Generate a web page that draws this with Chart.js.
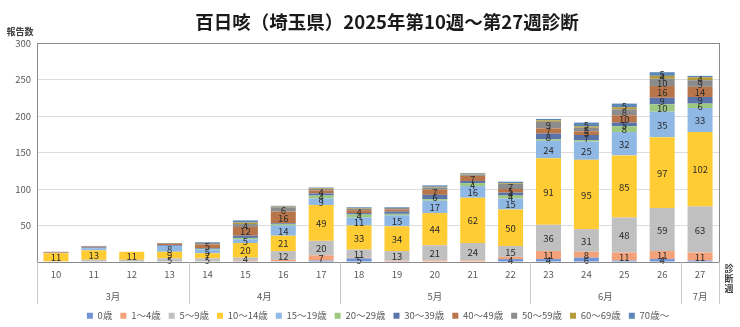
<!DOCTYPE html>
<html lang="ja">
<head>
<meta charset="utf-8">
<title>百日咳（埼玉県）2025年第10週～第27週診断</title>
<script src="https://cdn.jsdelivr.net/npm/chart.js@4.4.1/dist/chart.umd.min.js"></script>
<style>
  html, body { margin: 0; padding: 0; background: #fff; }
  #wrap { width: 740px; height: 327px; }
</style>
</head>
<body>
<div id="wrap"><canvas id="chart" width="740" height="327"></canvas></div>
<script>
// 診断週と月の区切り
const weeks = ['10', '11', '12', '13', '14', '15', '16', '17', '18', '19', '20', '21', '22', '23', '24', '25', '26', '27'];
const monthLabels = ['3月', '4月', '5月', '6月', '7月'];
const monthSpans = [4, 4, 5, 4, 1];

// 年齢階級別の報告数（週ごと）
const ageGroups = ['0歳', '1～4歳', '5～9歳', '10～14歳', '15～19歳', '20～29歳', '30～39歳', '40～49歳', '50～59歳', '60～69歳', '70歳～'];
const age0     = [0, 0, 0, 0, 0, 1, 1, 2, 5, 1, 0, 0, 4, 4, 6, 2, 4, 2];
const age1to4  = [0, 0, 0, 0, 0, 1, 2, 7, 1, 1, 2, 2, 3, 11, 8, 11, 11, 11];
const age5to9  = [1, 3, 3, 5, 5, 4, 12, 20, 11, 13, 21, 24, 15, 36, 31, 48, 59, 63];
const age10s   = [11, 13, 11, 9, 7, 20, 21, 49, 33, 34, 44, 62, 50, 91, 95, 85, 97, 102];
const age15s   = [0, 3, 0, 8, 5, 5, 14, 9, 11, 15, 17, 16, 15, 24, 25, 32, 35, 33];
const age20s   = [0, 0, 0, 0, 1, 2, 2, 4, 4, 2, 2, 4, 4, 2, 2, 8, 10, 6];
const age30s   = [0, 1, 0, 1, 1, 3, 1, 3, 2, 3, 6, 3, 4, 8, 7, 5, 9, 9];
const age40s   = [1, 1, 0, 2, 5, 12, 16, 4, 4, 3, 7, 7, 5, 7, 5, 10, 16, 14];
const age50s   = [1, 1, 0, 1, 2, 4, 6, 2, 2, 2, 3, 2, 7, 9, 5, 8, 10, 9];
const age60s   = [0, 0, 0, 0, 0, 2, 1, 1, 1, 0, 1, 1, 1, 2, 2, 3, 4, 4];
const age70up  = [0, 0, 0, 0, 1, 3, 1, 1, 1, 1, 2, 1, 2, 2, 5, 5, 5, 2];

const seriesData = [age0, age1to4, age5to9, age10s, age15s, age20s, age30s, age40s, age50s, age60s, age70up];
const colors = ['#7094d4', '#f4a27a', '#c0c0c0', '#ffcc33', '#8fb8e4', '#9cc97f', '#5a73a8', '#b8754a', '#8c8c8c', '#b39a3c', '#5e88b8'];

Chart.defaults.font.family = "'Noto Sans CJK JP', 'Noto Sans', sans-serif";
Chart.defaults.font.size = 9.5;
Chart.defaults.color = '#595959';

// 積み上げの中に数値（4以上）を表示
const segmentLabels = {
  id: 'segmentLabels',
  afterDatasetsDraw(chart) {
    const {ctx} = chart;
    ctx.save();
    ctx.font = "9.5px 'Noto Sans CJK JP', sans-serif";
    ctx.fillStyle = '#2b2b2b';
    ctx.textAlign = 'center';
    ctx.textBaseline = 'middle';
    chart.data.datasets.forEach((ds, d) => {
      const meta = chart.getDatasetMeta(d);
      meta.data.forEach((bar, i) => {
        const v = ds.data[i];
        if (v < 4) return;
        ctx.fillText(String(v), bar.x, (bar.y + bar.base) / 2 + 0.5);
      });
    });
    ctx.restore();
  }
};

// 枠線、月の区切り、タイトルなど
const decor = {
  id: 'decor',
  afterDraw(chart) {
    const {ctx, chartArea: a, scales: {x}} = chart;
    ctx.save();

    ctx.strokeStyle = '#8a8a8a';
    ctx.lineWidth = 1;
    ctx.strokeRect(Math.round(a.left) + 0.5, Math.round(a.top) + 0.5, Math.round(a.right - a.left), Math.round(a.bottom - a.top));

    // month groups under the week labels
    const half = (x.getPixelForValue(1) - x.getPixelForValue(0)) / 2;
    const bottomY = 304;
    ctx.strokeStyle = '#c8c8c8';
    ctx.beginPath();
    let idx = 0;
    const edges = [a.left];
    monthSpans.forEach(n => {
      idx += n;
      edges.push(idx < weeks.length ? x.getPixelForValue(idx) - half : a.right);
    });
    edges.forEach(px => {
      const xx = Math.round(px) + 0.5;
      ctx.moveTo(xx, a.bottom);
      ctx.lineTo(xx, bottomY);
    });
    ctx.stroke();

    ctx.fillStyle = '#595959';
    ctx.font = "9.5px 'Noto Sans CJK JP', sans-serif";
    ctx.textAlign = 'center';
    ctx.textBaseline = 'middle';
    monthLabels.forEach((m, k) => {
      ctx.fillText(m, (edges[k] + edges[k + 1]) / 2, 296);
    });

    // axis captions
    ctx.fillStyle = '#404040';
    ctx.font = "bold 9px 'Noto Sans CJK JP', sans-serif";
    ctx.fillText('報告数', 20, 32);
    ['診', '断', '週'].forEach((c, k) => ctx.fillText(c, 729, 269 + k * 10));

    ctx.fillStyle = '#1a1a1a';
    ctx.font = "bold 18.5px 'Noto Sans CJK JP', sans-serif";
    ctx.fillText('百日咳（埼玉県）2025年第10週～第27週診断', 387, 22);
    ctx.restore();
  }
};

const datasets = seriesData.map((arr, i) => ({
  label: ageGroups[i],
  data: arr,
  backgroundColor: colors[i],
  borderWidth: 0,
  barPercentage: 0.66,
  categoryPercentage: 1.0
}));

new Chart(document.getElementById('chart'), {
  type: 'bar',
  data: { labels: weeks, datasets: datasets },
  options: {
    responsive: false,
    animation: false,
    layout: { padding: { top: 43, right: 21, left: 0, bottom: -3.5 } },
    plugins: {
      title: { display: false },
      tooltip: { enabled: false },
      legend: {
        position: 'bottom',
        fullSize: false,
        labels: {
          boxWidth: 6,
          boxHeight: 6,
          padding: 8,
          color: '#595959',
          font: { size: 9.5 }
        }
      }
    },
    scales: {
      x: {
        stacked: true,
        grid: { display: false, drawTicks: false },
        border: { display: false },
        ticks: { padding: 7, autoSkip: false, maxRotation: 0, color: '#595959' },
        afterFit(scale) { scale.height = 41; }
      },
      y: {
        stacked: true,
        min: 0,
        max: 300,
        grid: { color: '#dcdcdc', drawTicks: false },
        border: { display: false },
        ticks: {
          stepSize: 50,
          padding: 6,
          color: '#595959',
          callback: v => (v === 0 ? '' : v)
        },
        afterFit(scale) { scale.width = 37; }
      }
    }
  },
  plugins: [segmentLabels, decor]
});
</script>
</body>
</html>
